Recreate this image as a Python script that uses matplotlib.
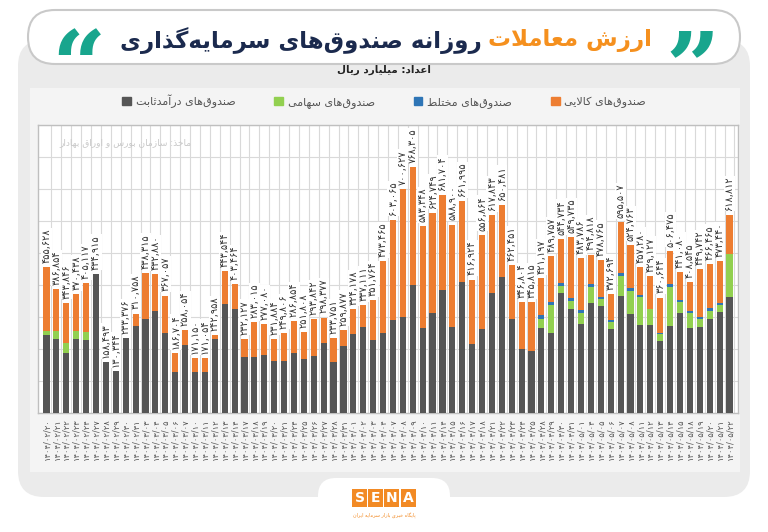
import numpy as np
import matplotlib
matplotlib.use('Agg')
import matplotlib.pyplot as plt
from matplotlib.patches import FancyBboxPatch, Rectangle, Patch

# trading days (jalali)
dates = ['1404/02/20', '1404/02/21', '1404/02/22', '1404/02/23', '1404/02/24', '1404/02/27', '1404/02/28',
         '1404/02/29', '1404/02/30', '1404/02/31', '1404/03/03', '1404/03/04', '1404/03/05', '1404/03/06',
         '1404/03/07', '1404/03/10', '1404/03/11', '1404/03/12', '1404/03/13', '1404/03/14', '1404/03/17',
         '1404/03/18', '1404/03/19', '1404/03/20', '1404/03/21', '1404/03/24', '1404/03/25', '1404/03/26',
         '1404/03/27', '1404/03/28', '1404/03/31', '1404/04/01', '1404/04/02', '1404/04/03', '1404/04/04',
         '1404/04/07', '1404/04/08', '1404/04/09', '1404/04/10', '1404/04/11', '1404/04/14', '1404/04/15',
         '1404/04/16', '1404/04/17', '1404/04/18', '1404/04/21', '1404/04/22', '1404/04/23', '1404/04/24',
         '1404/04/25', '1404/04/28', '1404/04/29', '1404/04/30', '1404/04/31', '1404/05/01', '1404/05/04',
         '1404/05/05', '1404/05/06', '1404/05/07', '1404/05/08', '1404/05/11', '1404/05/12', '1404/05/13',
         '1404/05/14', '1404/05/15', '1404/05/18', '1404/05/19', '1404/05/20', '1404/05/21', '1404/05/22']

# billion rial
fixed_income = [244000, 230000, 186000, 230000, 228000, 434915, 158493, 130344, 233376, 273000,
                294000, 320000, 249000, 127000, 212000, 127000, 127000, 231000, 340000, 324000,
                174000, 176000, 181000, 163000, 162000, 186000, 168000, 178000, 218000, 160000,
                209000, 246000, 268000, 228000, 249000, 291000, 301000, 400000, 265000, 313000,
                384000, 270000, 410000, 216000, 261000, 374000, 426000, 293000, 199000, 194000,
                265000, 249000, 374000, 324000, 278000, 345000, 335000, 261000, 367000, 309000,
                275000, 275000, 225000, 273000, 313000, 265000, 270000, 294000, 317000, 361000]
equity = [13000, 27000, 34000, 27000, 25000, 0, 0, 0, 0, 0,
          0, 0, 0, 0, 0, 0, 0, 0, 0, 0,
          0, 0, 0, 0, 0, 0, 0, 0, 0, 0,
          0, 0, 0, 0, 0, 0, 0, 0, 0, 0,
          0, 0, 0, 0, 0, 0, 0, 0, 0, 0,
          29000, 88000, 24000, 26000, 33000, 50000, 20000, 22000, 61000, 73000,
          86000, 49000, 22000, 122000, 33000, 48000, 23000, 26000, 20000, 136000]
mixed = [0, 0, 0, 0, 0, 0, 0, 0, 0, 0,
         0, 0, 0, 0, 0, 0, 0, 0, 0, 0,
         0, 0, 0, 0, 0, 0, 0, 0, 0, 0,
         0, 0, 0, 0, 0, 0, 0, 0, 0, 0,
         0, 0, 0, 0, 0, 0, 0, 0, 0, 0,
         12000, 9000, 7000, 8000, 11000, 8000, 9000, 8000, 8000, 8000,
         7000, 0, 4000, 7000, 7000, 5000, 6000, 7000, 6000, 0]
commodity = [198628, 129854, 123846, 113438, 152117, 0, 0, 0, 0, 37758,
             144315, 112880, 118057, 59704, 46054, 44150, 44054, 11958, 103544, 79464,
             58127, 107015, 96080, 68884, 87806, 100854, 83808, 115842, 80377, 73751,
             50877, 78178, 69111, 123764, 224465, 312065, 399627, 368305, 318348, 311749,
             297704, 318900, 251995, 200924, 295864, 243843, 224481, 169451, 147804, 151815,
             115197, 143757, 139734, 191735, 161786, 91818, 114765, 81694, 159507, 134763,
             89280, 105127, 109644, 104475, 88080, 90545, 150742, 139465, 130440, 121812]

ZW = '\u200c'
title_orange = 'ارزش معاملات'
title_navy = 'روزانه صندوق' + ZW + 'های سرمایه' + ZW + 'گذاری'
subtitle = 'اعداد: میلیارد ریال'
source = 'ماخذ: سازمان بورس و اوراق بهادار'
series_names = ['صندوق' + ZW + 'های درآمدثابت', 'صندوق' + ZW + 'های سهامی',
                'صندوق' + ZW + 'های مختلط', 'صندوق' + ZW + 'های کالایی']
logo_sub = 'پایگاه خبری بازار سرمایه ایران'

# --- minimal persian shaping (no arabic_reshaper available) ---
FORMS = {
    '\u0622': ('\uFE81', '\uFE82', None, None),
    '\u0627': ('\uFE8D', '\uFE8E', None, None),
    '\u0628': ('\uFE8F', '\uFE90', '\uFE91', '\uFE92'),
    '\u067E': ('\uFB56', '\uFB57', '\uFB58', '\uFB59'),
    '\u062A': ('\uFE95', '\uFE96', '\uFE97', '\uFE98'),
    '\u062B': ('\uFE99', '\uFE9A', '\uFE9B', '\uFE9C'),
    '\u062C': ('\uFE9D', '\uFE9E', '\uFE9F', '\uFEA0'),
    '\u0686': ('\uFB7A', '\uFB7B', '\uFB7C', '\uFB7D'),
    '\u062D': ('\uFEA1', '\uFEA2', '\uFEA3', '\uFEA4'),
    '\u062E': ('\uFEA5', '\uFEA6', '\uFEA7', '\uFEA8'),
    '\u062F': ('\uFEA9', '\uFEAA', None, None),
    '\u0630': ('\uFEAB', '\uFEAC', None, None),
    '\u0631': ('\uFEAD', '\uFEAE', None, None),
    '\u0632': ('\uFEAF', '\uFEB0', None, None),
    '\u0698': ('\uFB8A', '\uFB8B', None, None),
    '\u0633': ('\uFEB1', '\uFEB2', '\uFEB3', '\uFEB4'),
    '\u0634': ('\uFEB5', '\uFEB6', '\uFEB7', '\uFEB8'),
    '\u0635': ('\uFEB9', '\uFEBA', '\uFEBB', '\uFEBC'),
    '\u0636': ('\uFEBD', '\uFEBE', '\uFEBF', '\uFEC0'),
    '\u0637': ('\uFEC1', '\uFEC2', '\uFEC3', '\uFEC4'),
    '\u0638': ('\uFEC5', '\uFEC6', '\uFEC7', '\uFEC8'),
    '\u0639': ('\uFEC9', '\uFECA', '\uFECB', '\uFECC'),
    '\u063A': ('\uFECD', '\uFECE', '\uFECF', '\uFED0'),
    '\u0641': ('\uFED1', '\uFED2', '\uFED3', '\uFED4'),
    '\u0642': ('\uFED5', '\uFED6', '\uFED7', '\uFED8'),
    '\u06A9': ('\uFB8E', '\uFB8F', '\uFB90', '\uFB91'),
    '\u06AF': ('\uFB92', '\uFB93', '\uFB94', '\uFB95'),
    '\u0644': ('\uFEDD', '\uFEDE', '\uFEDF', '\uFEE0'),
    '\u0645': ('\uFEE1', '\uFEE2', '\uFEE3', '\uFEE4'),
    '\u0646': ('\uFEE5', '\uFEE6', '\uFEE7', '\uFEE8'),
    '\u0648': ('\uFEED', '\uFEEE', None, None),
    '\u0647': ('\uFEE9', '\uFEEA', '\uFEEB', '\uFEEC'),
    '\u06CC': ('\uFBFC', '\uFBFD', '\uFBFE', '\uFBFF'),
}


def fa(text):
    out = []
    i = 0
    n = len(text)
    while i < n:
        c = text[i]
        if c not in FORMS:
            if c != ZW:
                out.append(c)
            i += 1
            continue
        prev = text[i - 1] if i > 0 else ''
        conn_prev = prev in FORMS and FORMS[prev][2] is not None
        if c == '\u0644' and i + 1 < n and text[i + 1] == '\u0627':
            out.append('\uFEFC' if conn_prev else '\uFEFB')
            i += 2
            continue
        nxt = text[i + 1] if i + 1 < n else ''
        conn_next = FORMS[c][2] is not None and nxt in FORMS
        iso, fin, ini, med = FORMS[c]
        if conn_prev and conn_next:
            out.append(med)
        elif conn_prev:
            out.append(fin)
        elif conn_next:
            out.append(ini)
        else:
            out.append(iso)
        i += 1
    return ''.join(out)[::-1]


DIG = str.maketrans('0123456789', '۰۱۲۳۴۵۶۷۸۹')

plt.rcParams['font.family'] = ['DejaVu Sans']

c_dark = '#555555'
c_green = '#92d050'
c_blue = '#2e75b6'
c_orange = '#ed7d31'

fig = plt.figure(figsize=(7.68, 5.32), dpi=100)
fig.patch.set_facecolor('white')

# background layer in pixel coords
bg = fig.add_axes([0, 0, 1, 1], zorder=0)
bg.set_xlim(0, 768)
bg.set_ylim(532, 0)
bg.axis('off')
bg.add_patch(FancyBboxPatch((18, 40), 732, 457, boxstyle='round,pad=0,rounding_size=26',
                            fc='#ebebeb', ec='none'))
bg.add_patch(Rectangle((30, 88), 710, 384, fc='#f4f4f4', ec='none'))
bg.add_patch(FancyBboxPatch((28, 10), 712, 54, boxstyle='round,pad=0,rounding_size=27',
                            fc='white', ec='#c9c9c9', lw=1.5))
bg.add_patch(FancyBboxPatch((318, 478), 132, 70, boxstyle='round,pad=0,rounding_size=18',
                            fc='white', ec='none'))

# title in two colours
renderer = fig.canvas.get_renderer()
t_or = bg.text(0, 41, fa(title_orange), fontsize=16.5, fontweight='bold', color='#f5901e',
               ha='left', va='center')
t_nv = bg.text(0, 41, fa(title_navy), fontsize=16.5, fontweight='bold', color='#1b2a4e',
               ha='left', va='center')
w_or = t_or.get_window_extent(renderer).width
w_nv = t_nv.get_window_extent(renderer).width
gap = 7
x0 = 386 - (w_or + w_nv + gap) / 2
t_nv.set_x(x0)
t_or.set_x(x0 + w_nv + gap)
bg.text(78, 72, '\u201C', fontsize=68, color='#18a58d', ha='center', va='center',
        fontweight='bold', family='DejaVu Serif')
bg.text(693, 72, '\u201D', fontsize=68, color='#18a58d', ha='center', va='center',
        fontweight='bold', family='DejaVu Serif')
bg.text(384, 70, fa(subtitle), fontsize=7.5, fontweight='bold', color='#222222', ha='center', va='center')

# SENA logo
for k, ch in enumerate('SENA'):
    bg.add_patch(Rectangle((352 + k * 16.2, 489), 15, 18, fc='#f28a24', ec='none'))
    bg.text(352 + k * 16.2 + 7.5, 498.5, ch, fontsize=10, color='white', fontweight='bold',
            ha='center', va='center')
bg.text(384, 516, fa(logo_sub), fontsize=3.5, color='#f28a24', ha='center', va='center')

# chart
ax = fig.add_axes([38 / 768, 119 / 532, 700 / 768, 288 / 532], zorder=2)
ax.set_facecolor('white')
x = np.arange(len(dates))
base = np.zeros(len(dates))
for vals, col in [(fixed_income, c_dark), (equity, c_green), (mixed, c_blue), (commodity, c_orange)]:
    cont = ax.bar(x, vals, bottom=base, width=0.62, color=col, zorder=3)
    base = base + np.array(vals)

labels = [f'{int(v):,}'.translate(DIG) for v in base]
ax.bar_label(cont, labels=labels, rotation=90, padding=3, fontsize=7, color='#333333',
             bbox=dict(fc='white', ec='none', pad=0.4), zorder=4)

ax.set_xlim(-0.86, len(dates) - 0.14)
ax.set_ylim(0, 900000)
ax.set_yticks(np.arange(0, 900001, 100000))
ax.set_yticklabels([])
ax.tick_params(axis='y', length=0)
ax.set_xticks(x)
ax.set_xticklabels([d.translate(DIG) for d in dates], rotation=90, fontsize=6, color='#555555')
ax.tick_params(axis='x', length=0, pad=4)
ax.set_xticks(x + 0.5, minor=True)
ax.tick_params(axis='x', which='minor', length=0)
ax.grid(axis='y', color='#d9d9d9', lw=0.8, zorder=0)
ax.grid(axis='x', which='minor', color='#d9d9d9', lw=0.8, zorder=0)
for s in ax.spines.values():
    s.set_color('#bfbfbf')
    s.set_linewidth(1)

ax.text(0.031, 0.94, fa(source), transform=ax.transAxes, fontsize=6.5, color='#c8c8c8',
        ha='left', va='center', zorder=5)

handles = [Patch(color=c) for c in [c_dark, c_green, c_blue, c_orange]]
fig.legend(handles, [fa(s) for s in series_names], loc='center', bbox_to_anchor=(0.5, 1 - 101 / 532),
           ncol=4, frameon=False, fontsize=8, handlelength=0.8, handleheight=0.8,
           handletextpad=0.4, columnspacing=3.5, labelcolor='#555555')

fig.savefig('out.png', dpi=100)
